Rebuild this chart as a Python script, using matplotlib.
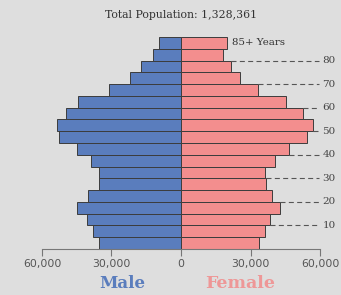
import matplotlib
matplotlib.use('Agg')
import matplotlib.pyplot as plt
import numpy as np

# age groups 0-4, 5-9, ..., 80-84, 85+
age_starts = [0, 5, 10, 15, 20, 25, 30, 35, 40, 45, 50, 55, 60, 65, 70, 75, 80, 85]
male = [35400, 38100, 40400, 44900, 40000, 35500, 35400, 39000, 44800, 52800,
        53700, 49600, 44300, 30900, 22000, 17100, 12200, 9400]
female = [33800, 36200, 38400, 42700, 39300, 36500, 36400, 40700, 46500, 54500,
          56800, 52500, 45300, 33400, 25500, 21400, 18300, 19700]
age_ticks = [10, 20, 30, 40, 50, 60, 70, 80]
x_ticks = [-60000, -30000, 0, 30000, 60000]
x_labels = ['60,000', '30,000', '0', '30,000', '60,000']
total = 1328361

bg = '#dedede'
blue = '#5a7dbd'
pink = '#f38e8e'
edge = '#3c3c3c'

fig = plt.figure(figsize=(3.41, 2.95), dpi=100)
fig.patch.set_facecolor(bg)
W, H = 341, 295
ax = fig.add_axes([42 / W, (H - 249) / H, (320 - 42) / W, (249 - 37) / H])
ax.set_facecolor(bg)

ax.barh(age_starts, [-m for m in male], height=5, align='edge',
        color=blue, edgecolor=edge, linewidth=0.7)
ax.barh(age_starts, female, height=5, align='edge',
        color=pink, edgecolor=edge, linewidth=0.7)

ax.set_xlim(-60000, 60000)
ax.set_ylim(0, 90)

# dashed leader lines from bar ends to the age labels
for a in age_ticks:
    i = age_starts.index(a)
    start = max(female[i], female[i - 1])
    ax.plot([start, 59500], [a, a], color='#555555', lw=0.8,
            ls=(0, (4.5, 3)), clip_on=False)
    ax.text(61000, a, str(a), fontsize=7.5, color='#444444', va='center',
            ha='left', family='DejaVu Serif', clip_on=False)

ax.text(female[-1] + 2500, 87.5, '85+ Years', fontsize=7.4, color='#333333',
        va='center', ha='left', family='DejaVu Serif')

for s in ['top', 'right', 'left']:
    ax.spines[s].set_visible(False)
ax.spines['bottom'].set_color('#777777')
ax.spines['bottom'].set_linewidth(0.8)
ax.set_yticks([])
ax.set_xticks(x_ticks)
ax.set_xticklabels(x_labels)
ax.tick_params(axis='x', direction='out', length=5, width=0.8, color='#777777',
               labelsize=7.8, labelcolor='#555555', pad=2.5)

fig.text(181 / W, 1 - 15 / H, f'Total Population: {total:,}', fontsize=7.8,
         color='#333333', ha='center', va='center', family='DejaVu Serif')
fig.text(122 / W, 1 - 283 / H, 'Male', fontsize=12, fontweight='bold',
         color='#5a7dbd', ha='center', va='center', family='DejaVu Serif')
fig.text(240 / W, 1 - 283 / H, 'Female', fontsize=12.5, fontweight='bold',
         color='#ee9797', ha='center', va='center', family='DejaVu Serif')

fig.savefig('out.png', dpi=100, facecolor=bg)
